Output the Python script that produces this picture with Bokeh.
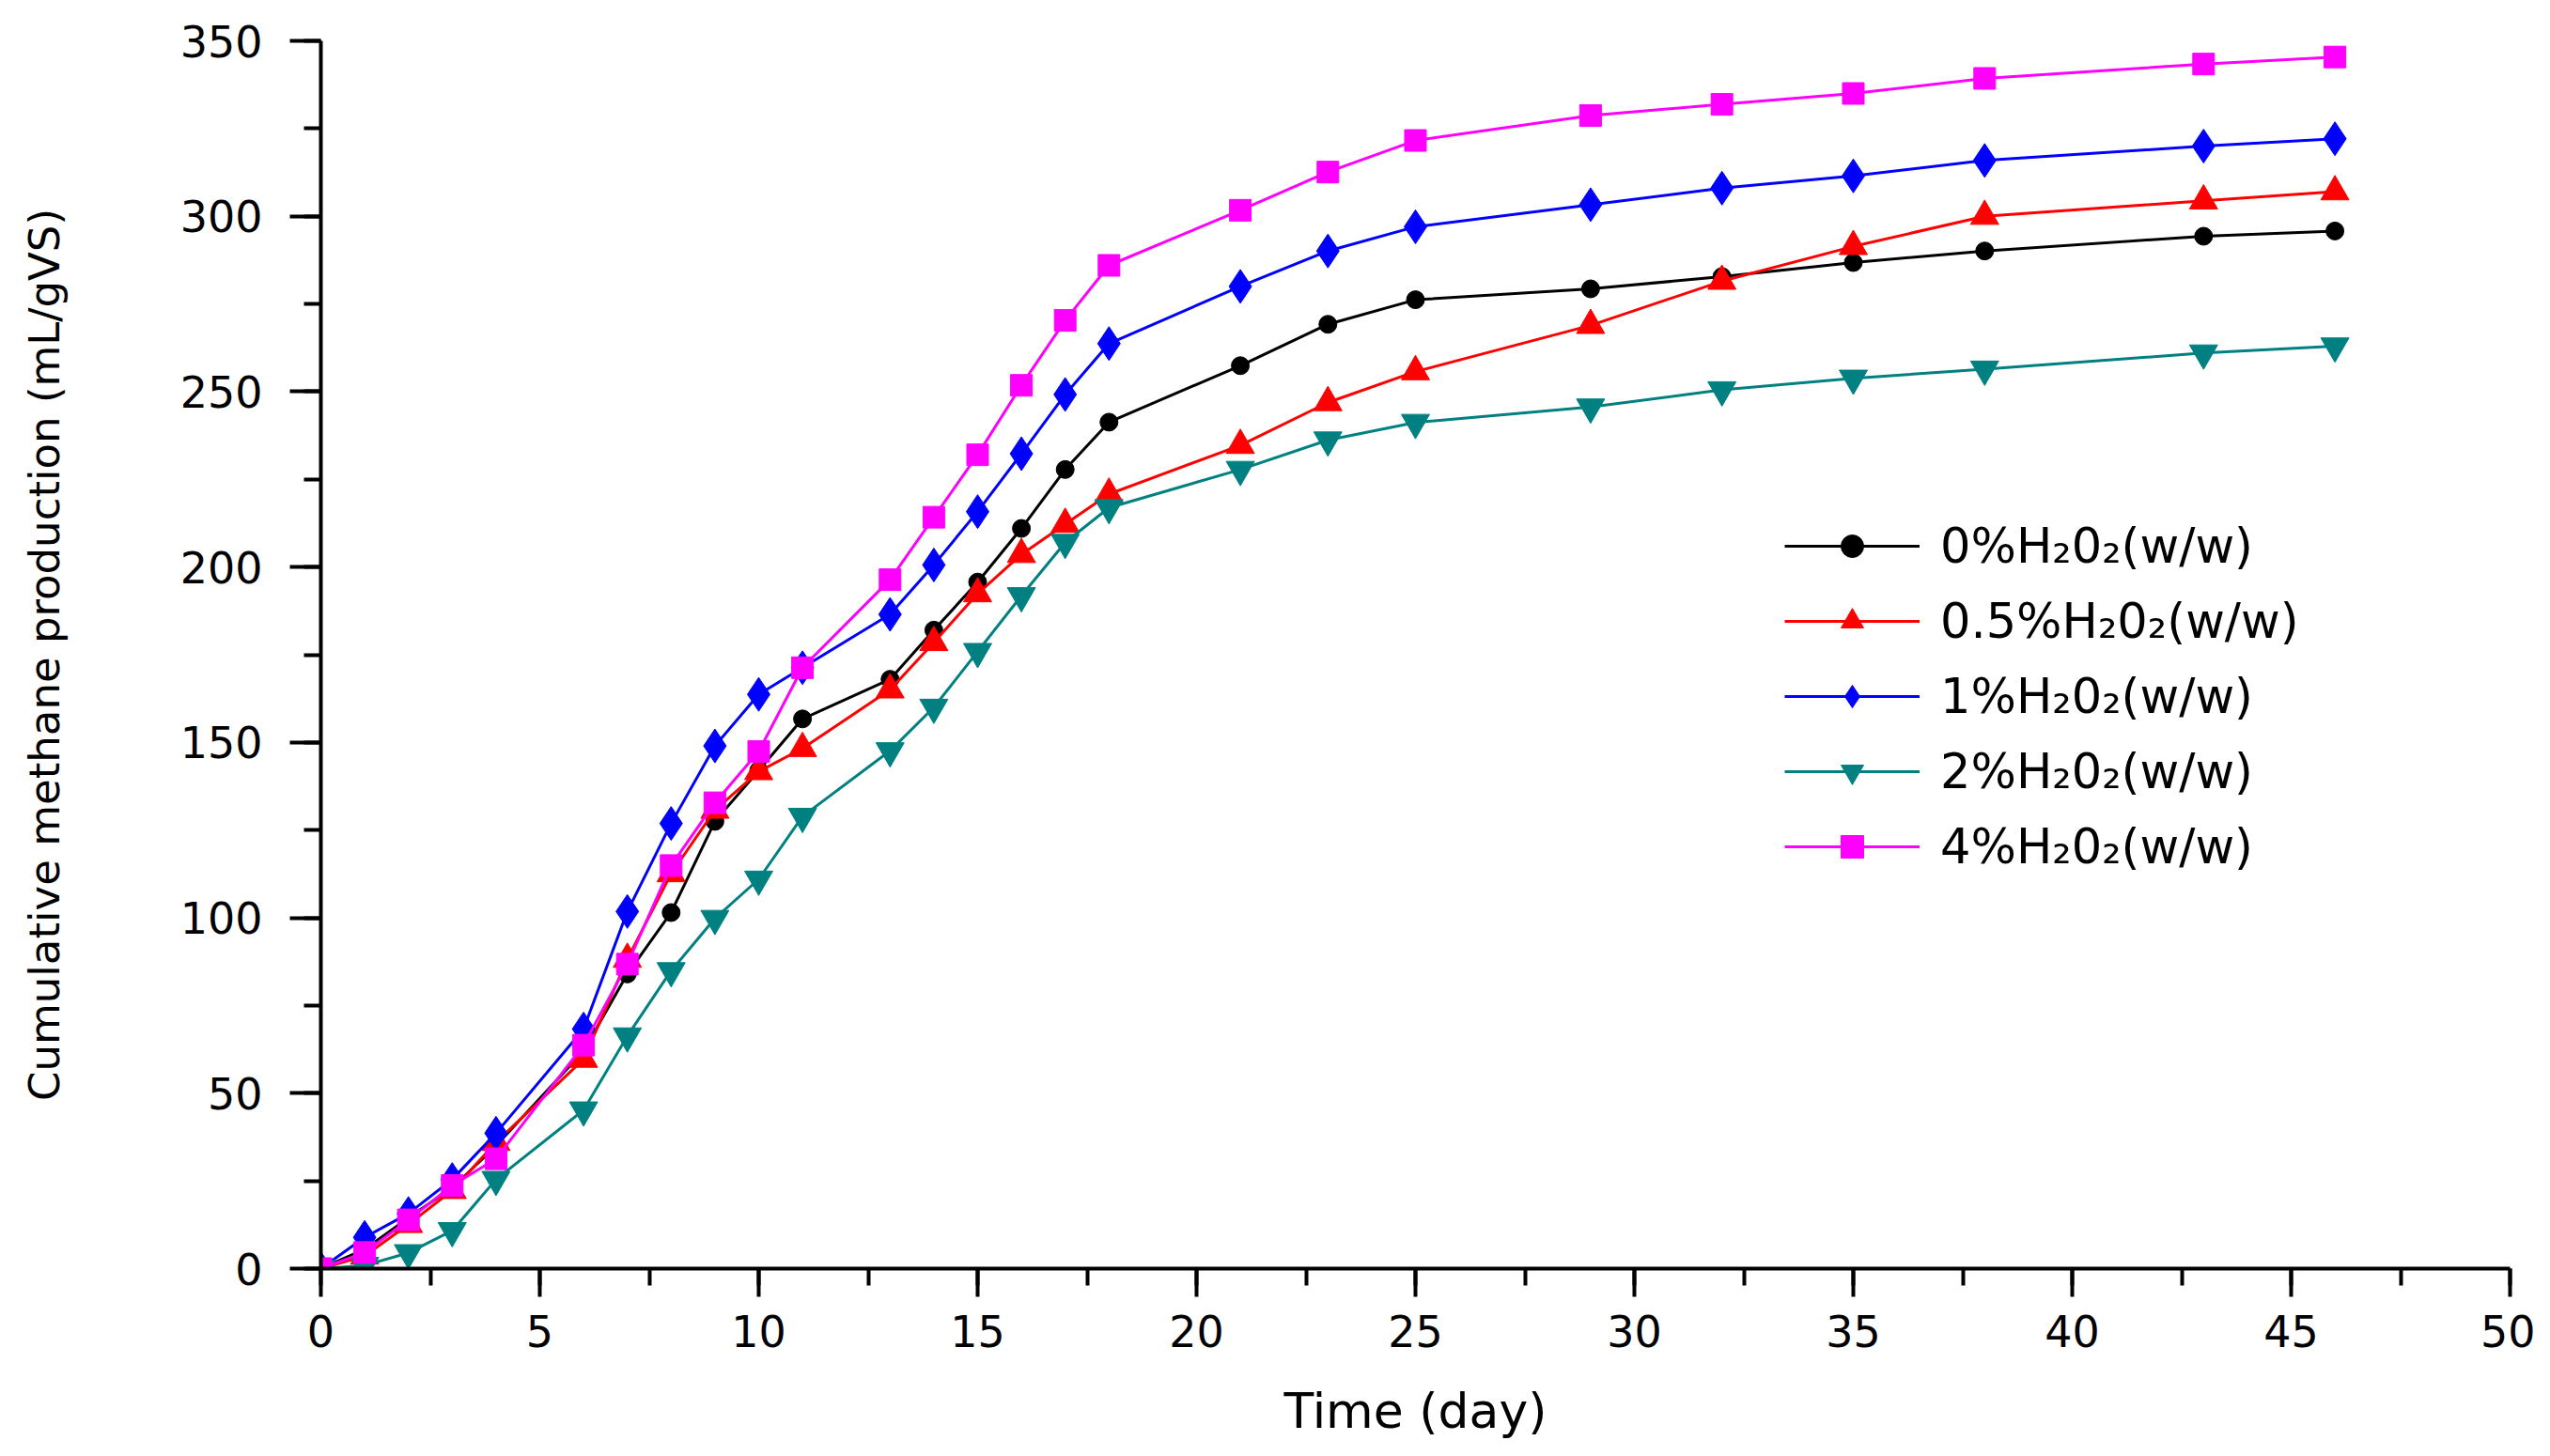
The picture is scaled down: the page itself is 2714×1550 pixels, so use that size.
import bokeh.plotting as bk
from bokeh.models import Legend, LegendItem, SingleIntervalTicker, Range1d
from bokeh.embed import file_html
from bokeh.resources import INLINE

#- sampling days
days = [0, 1, 2, 3, 4, 6, 7, 8, 9, 10, 11, 13, 14, 15, 16, 17, 18, 21, 23, 25, 29, 32, 35, 38, 43, 46]

#- cumulative methane production (mL/gVS)
h2o2_0 = [0, 5.5, 14.5, 23, 35, 62, 84, 101.5, 127.5, 142, 156.7, 168, 182, 195.7, 211, 227.8,
          241.3, 257.4, 269.2, 276.2, 279.3, 282.8, 286.8, 290.1, 294.3, 295.8]
h2o2_05 = [0, 3.6, 12.6, 22.3, 36, 59.7, 88.2, 112.6, 130.7, 141.7, 148.3, 165, 178.5, 192.4, 203.6, 212.2,
           220.8, 234.7, 246.9, 255.7, 268.9, 281.5, 291.4, 300, 304.4, 307]
h2o2_1 = [0, 8.9, 15.7, 25.4, 38.6, 68.3, 101.8, 126.9, 149, 163.7, 171.3, 186.5, 200.6, 215.8, 232.3, 249.2,
          263.7, 280, 290.1, 297, 303.3, 308, 311.5, 315.9, 320, 322.1]
h2o2_2 = [0, 0.9, 4.5, 10.8, 25.4, 45.2, 66.3, 84.9, 99.8, 111, 128.9, 147.6, 160, 175.9, 191.8, 207,
          216.9, 227.8, 236.2, 241.2, 245.6, 250.5, 253.8, 256.4, 261, 263]
h2o2_4 = [0, 4.6, 13.9, 23.7, 31.3, 63.7, 86.8, 114.9, 132.8, 147.4, 171.3, 196.4, 214.2, 232, 251.8, 270.3,
          286, 301.7, 312.6, 321.6, 328.7, 331.9, 335, 339.3, 343.4, 345.4]

labels = ["0%H\u20820\u2082(w/w)", "0.5%H\u20820\u2082(w/w)", "1%H\u20820\u2082(w/w)",
          "2%H\u20820\u2082(w/w)", "4%H\u20820\u2082(w/w)"]

FONT = "DejaVu Sans"

p = bk.figure(width=2698, height=1534, output_backend="svg", toolbar_location=None,
              x_range=Range1d(0, 50), y_range=Range1d(0, 350),
              min_border_left=341, min_border_right=27, min_border_top=43, min_border_bottom=182)
p.outline_line_color = None
p.xgrid.visible = False
p.ygrid.visible = False

#- series: (values, colour, marker, size)
series = [
    (h2o2_0, "#000000", "circle", 19),
    (h2o2_05, "#FF0000", "triangle", 30),
    (h2o2_1, "#0000FF", "diamond", 36),
    (h2o2_2, "#008080", "inverted_triangle", 30),
    (h2o2_4, "#FF00FF", "square", 23),
]

items = []
for (vals, color, marker, size), label in zip(series, labels):
    ln = p.line(days, vals, line_color=color, line_width=3)
    sc = p.scatter(days, vals, marker=marker, size=size, fill_color=color, line_color=color)
    items.append(LegendItem(label=label, renderers=[ln, sc]))

legend = Legend(items=items, location=(1558, 419), orientation="vertical",
                glyph_width=144, glyph_height=60, label_height=60, spacing=20,
                label_standoff=22, padding=0, margin=0,
                border_line_color=None, background_fill_alpha=0,
                label_text_font=FONT, label_text_font_size="51px", label_text_color="#000000")
p.add_layout(legend, "center")

#- axes
p.xaxis.ticker = SingleIntervalTicker(interval=5, num_minor_ticks=2)
p.yaxis.ticker = SingleIntervalTicker(interval=50, num_minor_ticks=2)

for ax in (p.xaxis, p.yaxis):
    ax.axis_line_width = 4
    ax.axis_line_color = "#000000"
    ax.major_tick_line_width = 4
    ax.minor_tick_line_width = 4
    ax.major_tick_line_color = "#000000"
    ax.minor_tick_line_color = "#000000"
    ax.major_tick_in = 0
    ax.minor_tick_in = 0
    ax.minor_tick_out = 18
    ax.major_label_text_font = FONT
    ax.major_label_text_font_size = "46px"
    ax.major_label_text_color = "#000000"
    ax.axis_label_text_font = FONT
    ax.axis_label_text_font_style = "normal"
    ax.axis_label_text_color = "#000000"

p.xaxis.major_tick_out = 30
p.yaxis.major_tick_out = 33
p.xaxis.major_label_standoff = 19
p.yaxis.major_label_standoff = 29

p.xaxis.axis_label = "Time (day)"
p.xaxis.axis_label_text_font_size = "52px"
p.xaxis.axis_label_standoff = 35

p.yaxis.axis_label = "Cumulative methane production (mL/gVS)"
p.yaxis.axis_label_text_font_size = "45px"
p.yaxis.axis_label_standoff = 115

open("out.html", "w").write(file_html(p, INLINE))
